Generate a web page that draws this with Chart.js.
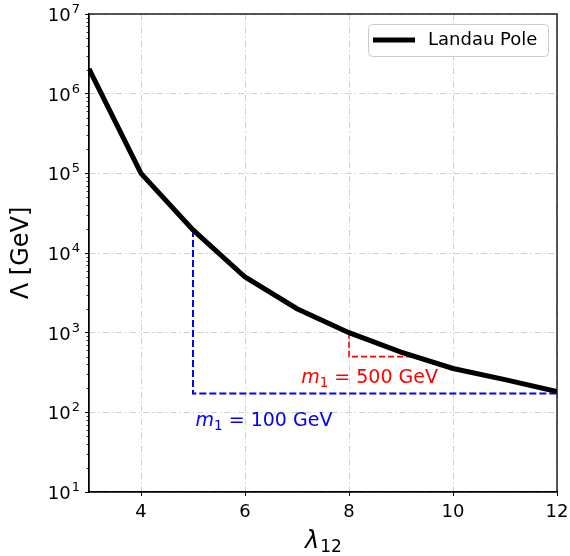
<!DOCTYPE html>
<html>
<head>
<meta charset="utf-8">
<script src="https://cdn.jsdelivr.net/npm/chart.js@4.4.1/dist/chart.umd.min.js"></script>
<style>
  html, body { margin: 0; padding: 0; background: #fff; }
  #wrap { width: 570px; height: 556px; }
</style>
</head>
<body>
<div id="wrap"><canvas id="landau"></canvas></div>
<script>
// lambda_12 values and the Landau pole scale (GeV)
const lambdas = [3, 4, 5, 6, 7, 8, 9, 10, 11, 12];
const landauPole = [2.05e6, 1.0e5, 1.95e4, 5.0e3, 2.0e3, 1.0e3, 570, 355, 257, 182];

// m1 = 100 GeV guide (blue) and m1 = 500 GeV guide (red)
const guide100X = [5, 5, 12];
const guide100Y = [1.95e4, 172, 172];
const guide500X = [8, 8, 9.2];
const guide500Y = [1.0e3, 500, 500];

const xTicks = [4, 6, 8, 10, 12];
const yExponents = [1, 2, 3, 4, 5, 6, 7];

const FONT = '"DejaVu Sans", sans-serif';

// text notes, in data coordinates
const notes = [
  { x: 7.08, y: 236, value: '500', color: '#ff0000' },
  { x: 5.05, y: 68, value: '100', color: '#0000ff' }
];

const toPts = (xs, ys) => xs.map((x, i) => ({ x: x, y: ys[i] }));

// draws "m_1 = ... GeV" with italic m and subscript
function drawMassNote(ctx, x, y, value, color) {
  ctx.save();
  ctx.fillStyle = color;
  ctx.textBaseline = 'alphabetic';
  ctx.textAlign = 'left';
  ctx.font = 'italic 19px ' + FONT;
  ctx.fillText('m', x, y);
  x += ctx.measureText('m').width;
  ctx.font = '13.5px ' + FONT;
  ctx.fillText('1', x, y + 4);
  x += ctx.measureText('1').width;
  ctx.font = '19px ' + FONT;
  ctx.fillText(' = ' + value + ' GeV', x, y);
  ctx.restore();
}

const extras = {
  id: 'extras',
  afterDraw(chart) {
    const { ctx, chartArea: a, scales } = chart;
    const xs = scales.x, ys = scales.y;

    // frame (top / right spines)
    ctx.save();
    ctx.strokeStyle = '#000';
    ctx.lineWidth = 1.3;
    ctx.strokeRect(a.left, a.top, a.right - a.left, a.bottom - a.top);

    // minor log ticks on y axis
    ctx.lineWidth = 0.8;
    ctx.beginPath();
    for (let e = 1; e < 7; e++) {
      for (let m = 2; m <= 9; m++) {
        const py = Math.round(ys.getPixelForValue(m * Math.pow(10, e))) + 0.5;
        ctx.moveTo(a.left - 2.5, py);
        ctx.lineTo(a.left, py);
      }
    }
    ctx.stroke();

    // y tick labels 10^n
    ctx.fillStyle = '#000';
    ctx.textBaseline = 'alphabetic';
    yExponents.forEach(e => {
      const py = ys.getPixelForValue(Math.pow(10, e));
      ctx.font = '13px ' + FONT;
      const ew = ctx.measureText(String(e)).width;
      const right = a.left - 9;
      ctx.textAlign = 'right';
      ctx.fillText(String(e), right, py - 1);
      ctx.font = '18px ' + FONT;
      ctx.fillText('10', right - ew - 1, py + 7);
    });

    // axis titles
    ctx.font = '24px ' + FONT;
    ctx.textAlign = 'center';
    ctx.save();
    ctx.translate(28, (a.top + a.bottom) / 2);
    ctx.rotate(-Math.PI / 2);
    ctx.fillText('\u039B [GeV]', 0, 0);
    ctx.restore();

    const cx = (a.left + a.right) / 2;
    ctx.textAlign = 'left';
    ctx.font = 'italic 24px ' + FONT;
    const lw = ctx.measureText('\u03BB').width;
    ctx.font = '17px ' + FONT;
    const sw = ctx.measureText('12').width;
    const startX = cx - (lw + sw) / 2;
    ctx.font = 'italic 24px ' + FONT;
    ctx.fillText('\u03BB', startX, 548);
    ctx.font = '17px ' + FONT;
    ctx.fillText('12', startX + lw + 1, 552);

    // mass notes
    notes.forEach(n => {
      drawMassNote(ctx, xs.getPixelForValue(n.x), ys.getPixelForValue(n.y), n.value, n.color);
    });

    // legend
    const lx = a.right - 189, ly = a.top + 10, lwid = 180, lh = 32;
    ctx.fillStyle = 'rgba(255,255,255,0.8)';
    ctx.strokeStyle = '#cccccc';
    ctx.lineWidth = 1;
    ctx.beginPath();
    ctx.roundRect(lx + 0.5, ly + 0.5, lwid, lh, 4);
    ctx.fill();
    ctx.stroke();
    ctx.strokeStyle = '#000';
    ctx.lineWidth = 5;
    ctx.beginPath();
    ctx.moveTo(lx + 5, ly + 16);
    ctx.lineTo(lx + 47, ly + 16);
    ctx.stroke();
    ctx.fillStyle = '#000';
    ctx.font = '18px ' + FONT;
    ctx.textBaseline = 'middle';
    ctx.fillText('Landau Pole', lx + 60, ly + 16);
    ctx.restore();
  }
};

new Chart(document.getElementById('landau').getContext('2d'), {
  type: 'scatter',
  data: {
    datasets: [
      {
        label: 'm1 = 100 GeV',
        data: toPts(guide100X, guide100Y),
        showLine: true,
        borderColor: '#0000ff',
        borderWidth: 2,
        borderDash: [7, 3],
        pointRadius: 0,
        fill: false,
        order: 2
      },
      {
        label: 'm1 = 500 GeV',
        data: toPts(guide500X, guide500Y),
        showLine: true,
        borderColor: '#ff0000',
        borderWidth: 1.6,
        borderDash: [6, 3],
        pointRadius: 0,
        fill: false,
        order: 2
      },
      {
        label: 'Landau Pole',
        data: toPts(lambdas, landauPole),
        showLine: true,
        borderColor: '#000',
        borderWidth: 5,
        borderJoinStyle: 'miter',
        pointRadius: 0,
        fill: false,
        order: 1
      }
    ]
  },
  options: {
    responsive: true,
    maintainAspectRatio: false,
    animation: false,
    layout: { padding: { top: 14, right: 13, left: 0, bottom: 0 } },
    plugins: {
      legend: { display: false },
      tooltip: { enabled: false }
    },
    scales: {
      x: {
        type: 'linear',
        min: 3,
        max: 12,
        afterBuildTicks: s => { s.ticks = xTicks.map(v => ({ value: v })); },
        afterFit: s => { s.height = 64; s.paddingLeft = 0; s.paddingRight = 0; },
        grid: {
          color: '#cfcfcf',
          lineWidth: 1,
          tickColor: '#000',
          tickLength: 4,
          tickWidth: 1
        },
        border: { color: '#000', width: 1.3, dash: [6, 3, 1.5, 3] },
        ticks: {
          color: '#000',
          padding: 6,
          maxRotation: 0,
          font: { family: FONT, size: 18 }
        }
      },
      y: {
        type: 'logarithmic',
        min: 10,
        max: 1e7,
        afterBuildTicks: s => { s.ticks = yExponents.map(e => ({ value: Math.pow(10, e) })); },
        afterFit: s => { s.width = 89; s.paddingTop = 0; s.paddingBottom = 0; },
        grid: {
          color: '#cfcfcf',
          lineWidth: 1,
          tickColor: '#000',
          tickLength: 4,
          tickWidth: 1
        },
        border: { color: '#000', width: 1.3, dash: [6, 3, 1.5, 3] },
        ticks: {
          color: '#000',
          callback: () => '',
          font: { family: FONT, size: 18 }
        }
      }
    }
  },
  plugins: [extras]
});
</script>
</body>
</html>
